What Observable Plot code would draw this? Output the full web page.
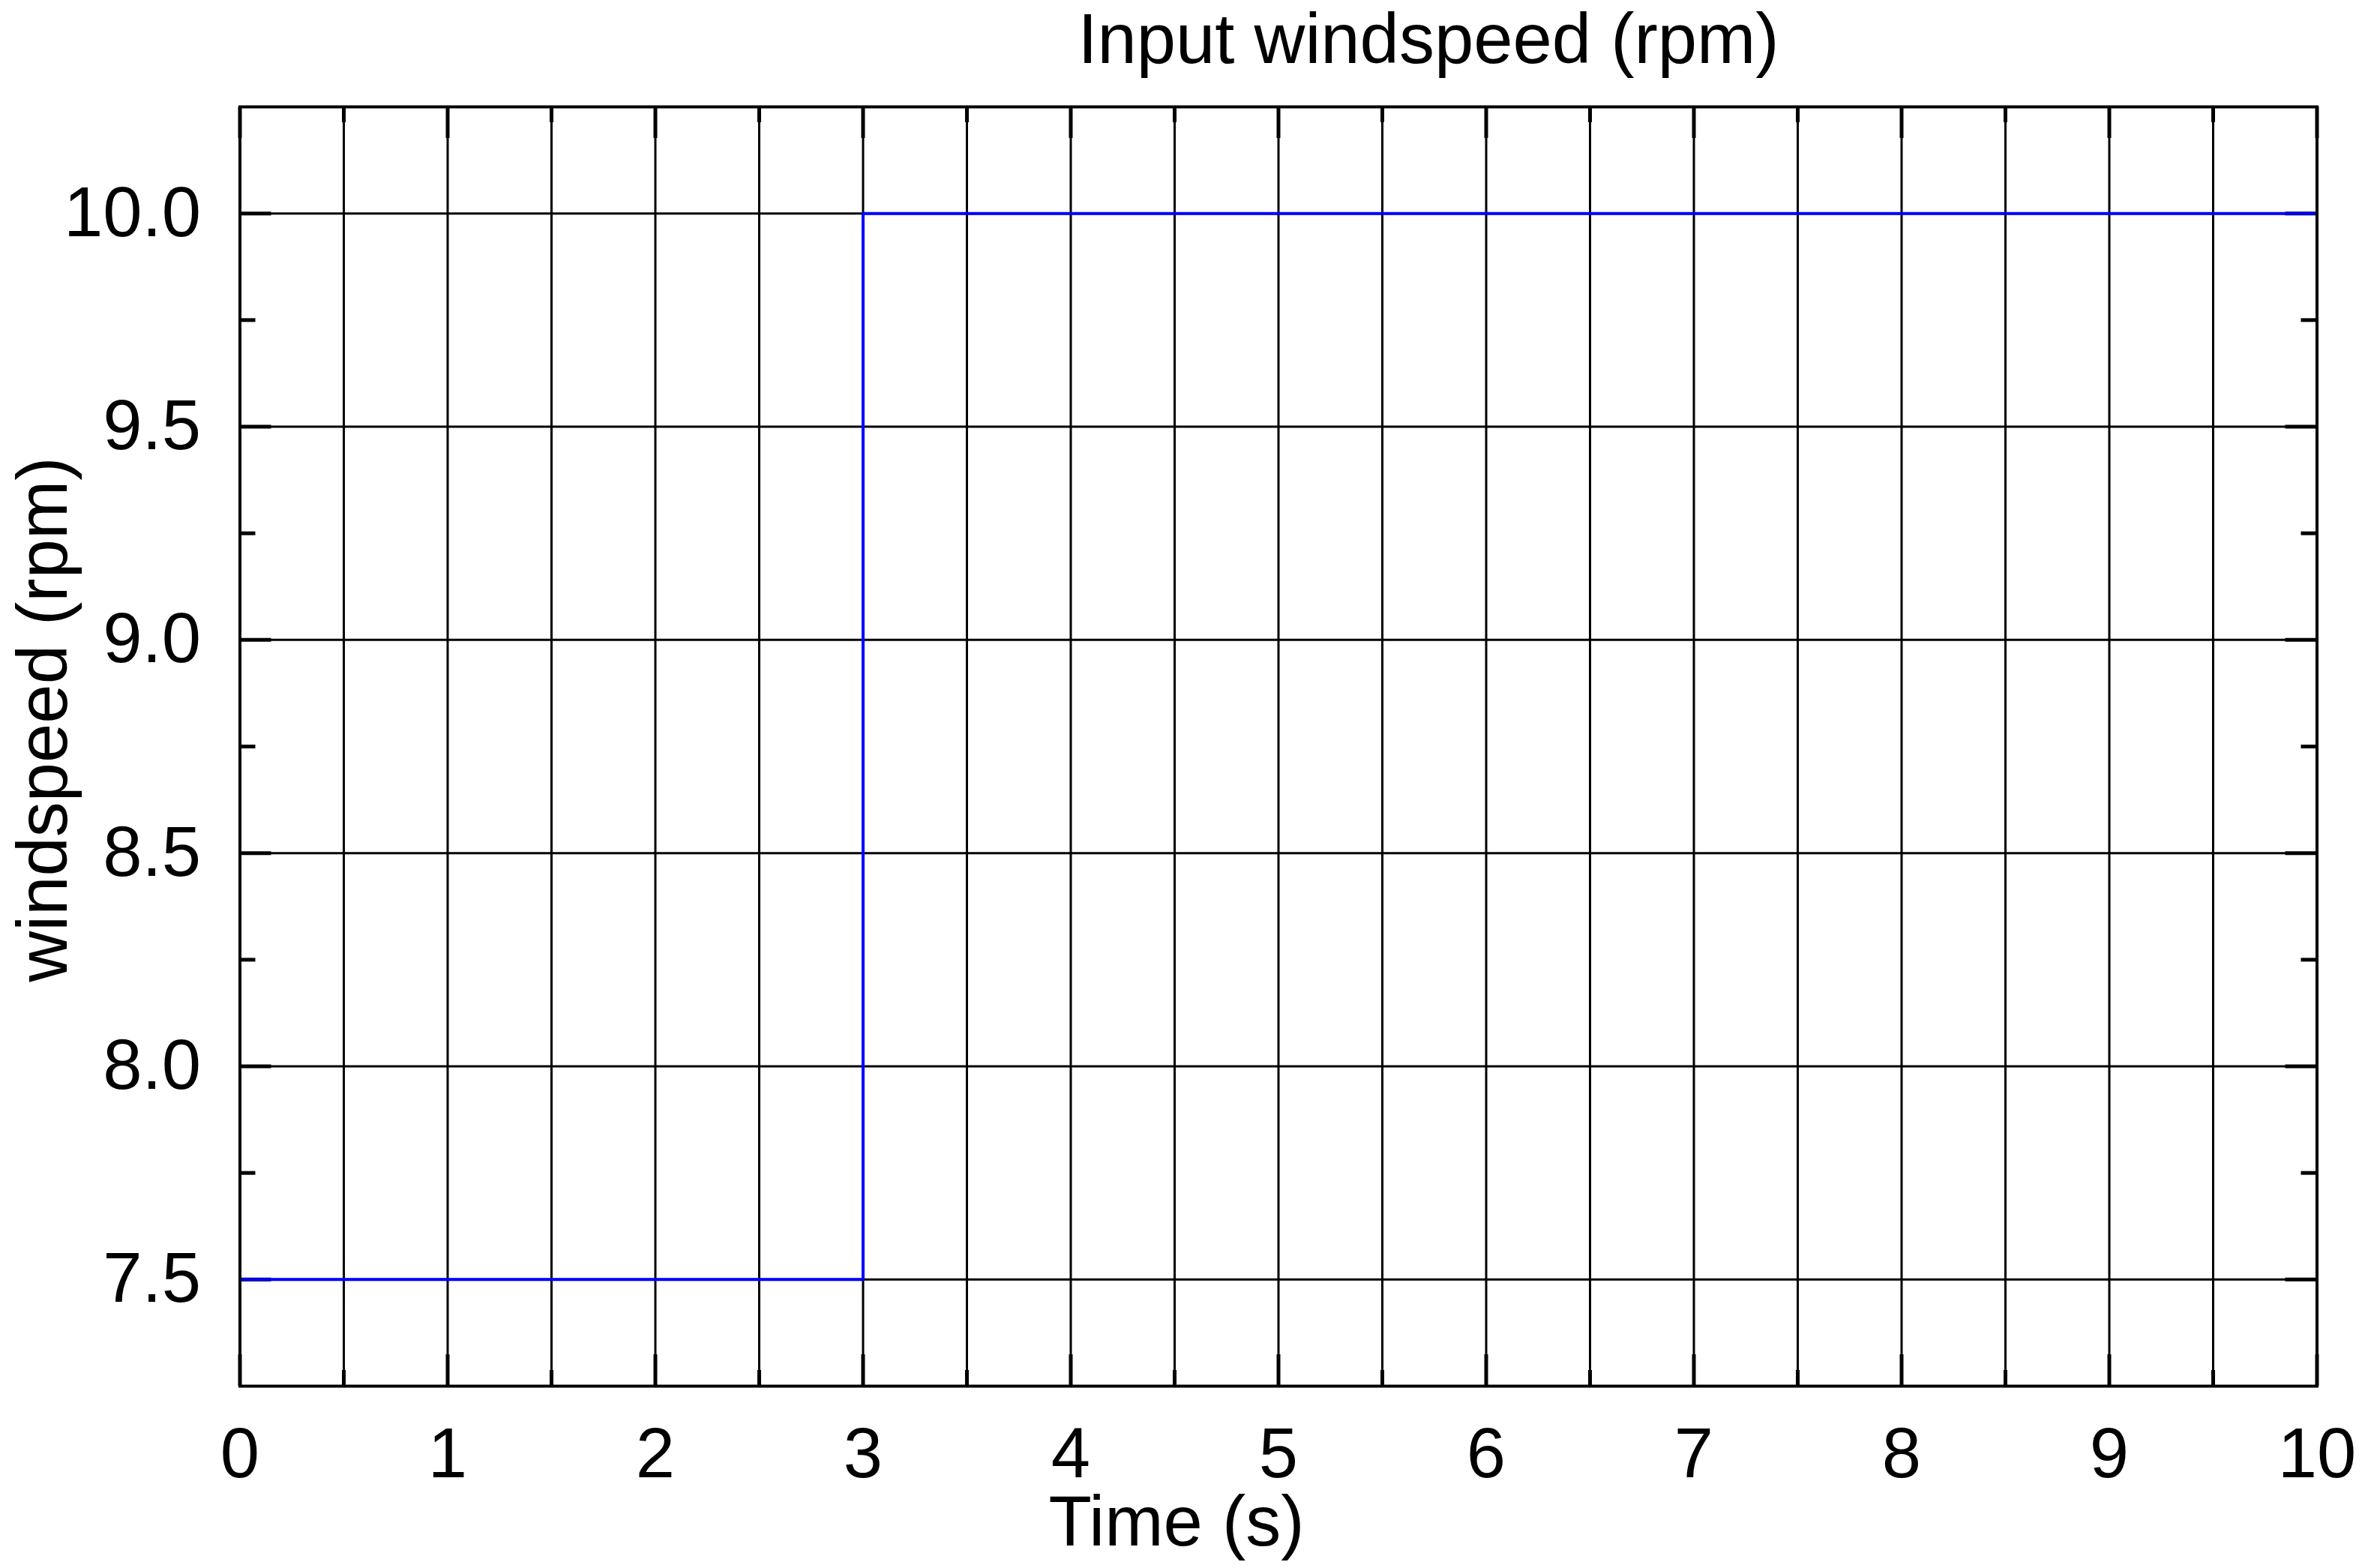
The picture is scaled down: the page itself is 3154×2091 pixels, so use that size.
<!DOCTYPE html>
<html>
<head>
<meta charset="utf-8">
<script src="https://cdn.jsdelivr.net/npm/d3@7"></script>
<script src="https://cdn.jsdelivr.net/npm/@observablehq/plot@0.6"></script>
<style>
  html, body { margin: 0; padding: 0; background: #fff; }
  #chart svg { display: block; }
</style>
</head>
<body>
<div id="chart"></div>
<script>
// Data: input windspeed step
const time = [0, 3, 10];
const windspeed = [7.5, 10, 10];

// Tick values
const xMajor = [0, 1, 2, 3, 4, 5, 6, 7, 8, 9, 10];
const xMinor = [0.5, 1.5, 2.5, 3.5, 4.5, 5.5, 6.5, 7.5, 8.5, 9.5];
const yMajor = [7.5, 8.0, 8.5, 9.0, 9.5, 10.0];
const yMinor = [7.75, 8.25, 8.75, 9.25, 9.75];
const xGrid = xMajor.concat(xMinor);

const title = "Input windspeed (rpm)";
const xLabel = "Time (s)";
const yLabel = "windspeed (rpm)";

const W = 3154, H = 2091;
const mL = 319.5, mR = 64.5, mT = 142, mB = 243;
const frameW = W - mL - mR, frameH = H - mT - mB;
const majorLen = 42, minorLen = 21;
const font = "'Liberation Sans', Arial, Helvetica, sans-serif";
const fs = 94;

const data = time.map((t, i) => ({t, v: windspeed[i]}));

const chart = Plot.plot({
  width: W,
  height: H,
  marginLeft: mL,
  marginRight: mR,
  marginTop: mT,
  marginBottom: mB,
  style: {fontFamily: font, fontSize: fs + "px", background: "#fff", color: "black"},
  x: {domain: [0, 10], label: null},
  y: {domain: [7.25, 10.25], label: null},
  marks: [
    Plot.gridX(xGrid, {stroke: "black", strokeOpacity: 1, strokeWidth: 3}),
    Plot.gridY(yMajor, {stroke: "black", strokeOpacity: 1, strokeWidth: 3}),
    // inward ticks, bottom & top
    Plot.tickX(xMajor, {x: d => d, insetTop: frameH - majorLen, stroke: "black", strokeWidth: 5}),
    Plot.tickX(xMajor, {x: d => d, insetBottom: frameH - majorLen, stroke: "black", strokeWidth: 5}),
    Plot.tickX(xMinor, {x: d => d, insetTop: frameH - minorLen, stroke: "black", strokeWidth: 5}),
    Plot.tickX(xMinor, {x: d => d, insetBottom: frameH - minorLen, stroke: "black", strokeWidth: 5}),
    // inward ticks, left & right
    Plot.tickY(yMajor, {y: d => d, insetRight: frameW - majorLen, stroke: "black", strokeWidth: 5}),
    Plot.tickY(yMajor, {y: d => d, insetLeft: frameW - majorLen, stroke: "black", strokeWidth: 5}),
    Plot.tickY(yMinor, {y: d => d, insetRight: frameW - minorLen, stroke: "black", strokeWidth: 5}),
    Plot.tickY(yMinor, {y: d => d, insetLeft: frameW - minorLen, stroke: "black", strokeWidth: 5}),
    Plot.line(data, {x: "t", y: "v", curve: "step-after", stroke: "#0000ff", strokeWidth: 4}),
    Plot.axisX(xMajor, {anchor: "bottom", tickSize: 0, tickPadding: 55, fontSize: fs, label: null, tickFormat: d3.format("d")}),
    Plot.axisY(yMajor, {anchor: "left", tickSize: 0, tickPadding: 52, fontSize: fs, label: null, tickFormat: d3.format(".1f")}),
    Plot.frame({stroke: "black", strokeWidth: 4}),
    Plot.text([title], {text: d => d, frameAnchor: "top", dx: 200, dy: -89, fontSize: fs, fill: "black", lineAnchor: "middle", textAnchor: "middle"}),
    Plot.text([xLabel], {text: d => d, frameAnchor: "bottom", dx: -136, dy: 182, fontSize: fs, fill: "black", lineAnchor: "middle", textAnchor: "middle"}),
    Plot.text([yLabel], {text: d => d, frameAnchor: "left", dx: -261.5, dy: -36, rotate: -90, fontSize: fs, fill: "black", lineAnchor: "middle", textAnchor: "middle"})
  ]
});
document.getElementById("chart").appendChild(chart);
</script>
</body>
</html>
